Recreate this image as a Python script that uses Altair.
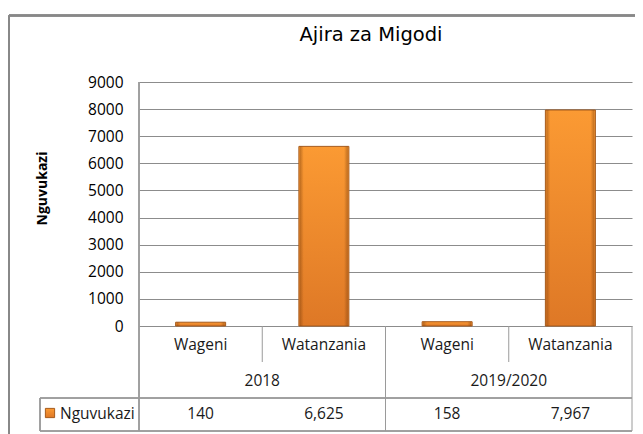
import altair as alt
import pandas as pd

# ---- data ----
chart_title = "Ajira za Migodi"
series_name = "Nguvukazi"
years = ["2018", "2018", "2019/2020", "2019/2020"]
groups = ["Wageni", "Watanzania", "Wageni", "Watanzania"]
values = [140, 6625, 158, 7967]
y_ticks = [0, 1000, 2000, 3000, 4000, 5000, 6000, 7000, 8000, 9000]

df = pd.DataFrame({"year": years, "group": groups, "value": values})
df["key"] = df["year"] + " " + df["group"]
order = list(df["key"])

W, H = 493, 244
TXT = "#1a1a1a"
LINE = "#9a9a9a"
GRID = "#8c8c8c"
FONT = "Open Sans"

xscale = alt.Scale(domain=order, paddingInner=0, paddingOuter=0)
x_mid = alt.X("key:N", sort=order, scale=xscale, axis=None)
x_right = alt.X("key:N", sort=order, scale=xscale, axis=None, bandPosition=1)

y_enc = alt.Y(
    "value:Q",
    scale=alt.Scale(domain=[0, 9000], nice=False, zero=True),
    axis=alt.Axis(
        values=y_ticks, format="d", labelOverlap=False,
        grid=True, gridColor=GRID, gridWidth=1, gridOpacity=1,
        ticks=False, domain=False,
        labelFont=FONT, labelFontSize=15.5, labelColor="#000", labelPadding=16,
        title=series_name, titleFont=FONT, titleFontSize=14, titleFontWeight="bold",
        titleColor="#000", titleAngle=-90, titleX=-97, titleY=106,
        titleAlign="center", titleBaseline="middle",
    ),
)

base = alt.Chart(df)

main_fill = alt.Gradient(
    gradient="linear", x1=0, x2=0, y1=0, y2=1,
    stops=[alt.GradientStop(offset=0, color="#fb9a33"),
           alt.GradientStop(offset=1, color="#de7826")],
)
bevel_fill = alt.Gradient(
    gradient="linear", x1=0, x2=1, y1=0, y2=0,
    stops=[alt.GradientStop(offset=0, color="rgba(120,60,10,0.45)"),
           alt.GradientStop(offset=0.08, color="rgba(120,60,10,0)"),
           alt.GradientStop(offset=0.92, color="rgba(120,60,10,0)"),
           alt.GradientStop(offset=1, color="rgba(120,60,10,0.45)")],
)

bars = base.mark_bar(width=50, color=main_fill, stroke="#a65a1c", strokeWidth=1).encode(x=x_mid, y=y_enc)
bevel = base.mark_bar(width=48, color=bevel_fill).encode(x=x_mid, y=y_enc)

cat_text = base.mark_text(font=FONT, fontSize=15.5, color=TXT).encode(
    x=x_mid, y=alt.value(263), text="group:N")
year_text = base.transform_filter(alt.datum.group == groups[0]).mark_text(
    font=FONT, fontSize=15.5, color=TXT).encode(x=x_right, y=alt.value(299), text="year:N")
val_text = base.mark_text(font=FONT, fontSize=15.5, color=TXT).encode(
    x=x_mid, y=alt.value(332), text=alt.Text("value:Q", format=","))

short_div = base.transform_filter(alt.datum.group == groups[0]).mark_rule(color=LINE).encode(
    x=x_right, y=alt.value(H), y2=alt.value(280))
full_div = base.transform_filter(alt.datum.group == groups[1]).mark_rule(color=LINE).encode(
    x=x_right, y=alt.value(H), y2=alt.value(349))

left_line = base.mark_rule(color=LINE).encode(x=alt.value(0), y=alt.value(0), y2=alt.value(349))
tab_top = base.mark_rule(color=LINE).encode(x=alt.value(-99), x2=alt.value(W), y=alt.value(316))
tab_bot = base.mark_rule(color=LINE).encode(x=alt.value(-99), x2=alt.value(W), y=alt.value(349))
tab_left = base.mark_rule(color=LINE).encode(x=alt.value(-99), y=alt.value(316), y2=alt.value(349))

leg_df = pd.DataFrame({"name": [series_name]})
leg_sym = alt.Chart(leg_df).mark_square(size=85, color=main_fill, stroke="#a65a1c", strokeWidth=1, opacity=1).encode(
    x=alt.value(-89), y=alt.value(331))
leg_txt = alt.Chart(leg_df).mark_text(font=FONT, fontSize=15.5, color=TXT, align="left").encode(
    x=alt.value(-79), y=alt.value(332), text="name:N")

border_top = base.mark_rule(color="#888888", strokeWidth=2).encode(
    x=alt.value(-130), x2=alt.value(W + 10), y=alt.value(-66.5))
border_left = base.mark_rule(color="#888888", strokeWidth=2).encode(
    x=alt.value(-130), y=alt.value(-66.5), y2=alt.value(H + 120))

title_df = pd.DataFrame({"t": [chart_title]})
title = alt.Chart(title_df).mark_text(font="DejaVu Sans", fontSize=19.5, color="#000", align="center",
                                      baseline="alphabetic").encode(
    x=alt.value(232), y=alt.value(-41), text="t:N")

chart = alt.layer(
    bars, bevel, cat_text, year_text, val_text, short_div, full_div,
    left_line, tab_top, tab_bot, tab_left, leg_sym, leg_txt,
    border_top, border_left, title,
).properties(
    width=W, height=H,
    autosize=alt.AutoSizeParams(type="none"),
    padding={"left": 131, "top": 74, "right": 3, "bottom": 108},
    background="white",
).configure_view(stroke=None)

chart.save("out.html", embed_options={"renderer": "svg", "actions": False})
